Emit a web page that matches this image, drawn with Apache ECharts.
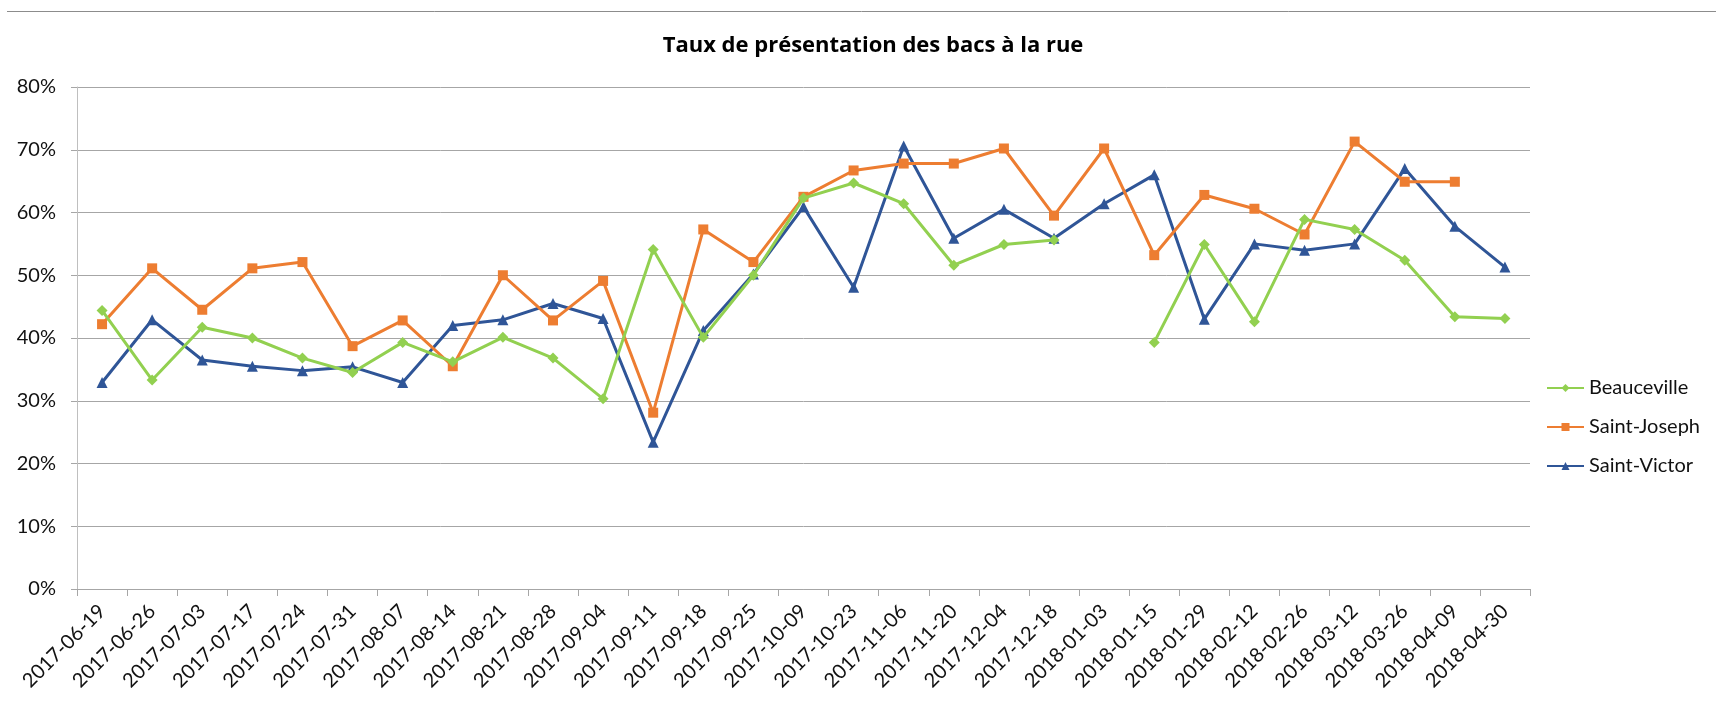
<!DOCTYPE html>
<html>
<head>
<meta charset="utf-8">
<script src="https://cdn.jsdelivr.net/npm/echarts/dist/echarts.min.js"></script>
<style>
html,body{margin:0;padding:0;background:#fff;}
#chart{width:1716px;height:708px;}
</style>
</head>
<body>
<div id="chart"></div>
<script>
const titleText = 'Taux de présentation des bacs à la rue';
const categories = ['2017-06-19','2017-06-26','2017-07-03','2017-07-17','2017-07-24','2017-07-31','2017-08-07','2017-08-14','2017-08-21','2017-08-28','2017-09-04','2017-09-11','2017-09-18','2017-09-25','2017-10-09','2017-10-23','2017-11-06','2017-11-20','2017-12-04','2017-12-18','2018-01-03','2018-01-15','2018-01-29','2018-02-12','2018-02-26','2018-03-12','2018-03-26','2018-04-09','2018-04-30'];
const beauceville = [44.4,33.3,41.7,40.0,36.8,34.5,39.3,36.2,40.1,36.8,30.3,54.1,40.1,50.0,62.3,64.7,61.4,51.6,54.9,55.6,null,39.3,54.9,42.6,58.9,57.3,52.4,43.4,43.1];
const saintJoseph = [42.2,51.1,44.5,51.1,52.1,38.7,42.8,35.5,50.0,42.8,49.1,28.1,57.3,52.1,62.5,66.7,67.8,67.8,70.2,59.5,70.2,53.2,62.8,60.6,56.5,71.3,64.9,64.9,null];
const saintVictor = [32.9,42.9,36.5,35.5,34.8,35.4,32.9,42.0,42.9,45.5,43.1,23.4,41.2,50.2,60.9,48.1,70.6,55.9,60.5,55.9,61.4,66.0,43.0,55.0,54.0,55.0,67.0,57.8,51.3];
const seriesNames = ['Beauceville','Saint-Joseph','Saint-Victor'];
const yTicks = {min:0, max:80, interval:10};

const FONT = 'Lato, "Open Sans", sans-serif';
const chart = echarts.init(document.getElementById('chart'), null, {renderer:'canvas'});
function mk(name, data, color, symbol, size, z){
  return {
    name, type:'line', data, z,
    connectNulls:false,
    symbol, symbolSize:size,
    lineStyle:{color, width:3},
    itemStyle:{color},
    emphasis:{disabled:true},
    animation:false
  };
}
chart.setOption({
  backgroundColor:'#fff',
  animation:false,
  title:{
    text:titleText, left:868, top:30, textAlign:'center',
    textStyle:{fontFamily:'"Open Sans", Lato, sans-serif', fontWeight:'bold', fontSize:22, color:'#000'}
  },
  graphic:[{type:'line', shape:{x1:7,y1:11.5,x2:1716,y2:11.5}, style:{stroke:'#8c8c8c', lineWidth:1}}],
  legend:{
    orient:'vertical', left:1541, top:373,
    itemWidth:37, itemHeight:10, itemGap:19,
    textStyle:{fontFamily:FONT, fontSize:20, color:'#111', lineHeight:20},
    data:seriesNames
  },
  grid:{left:77, right:186, top:87, bottom:119, containLabel:false},
  xAxis:{
    type:'category', data:categories, boundaryGap:true,
    axisLine:{lineStyle:{color:'#a6a6a6', width:1}},
    axisTick:{show:true, alignWithLabel:false, length:7, lineStyle:{color:'#a6a6a6'}},
    axisLabel:{interval:0, rotate:45, margin:19, fontFamily:FONT, fontSize:20, color:'#111'}
  },
  yAxis:{
    type:'value', min:yTicks.min, max:yTicks.max, interval:yTicks.interval,
    axisLine:{show:true, lineStyle:{color:'#bfbfbf'}},
    axisTick:{show:true, length:6, lineStyle:{color:'#a6a6a6'}},
    splitLine:{lineStyle:{color:'#a6a6a6', width:1}},
    axisLabel:{formatter:'{value}%', margin:21, fontFamily:FONT, fontSize:20, color:'#111'}
  },
  series:[
    mk(seriesNames[0], beauceville, '#92d050', 'diamond', 11, 5),
    mk(seriesNames[1], saintJoseph, '#ed7d31', 'rect', 10, 4),
    mk(seriesNames[2], saintVictor, '#2f5597', 'triangle', 11, 3)
  ]
});
</script>
</body>
</html>
